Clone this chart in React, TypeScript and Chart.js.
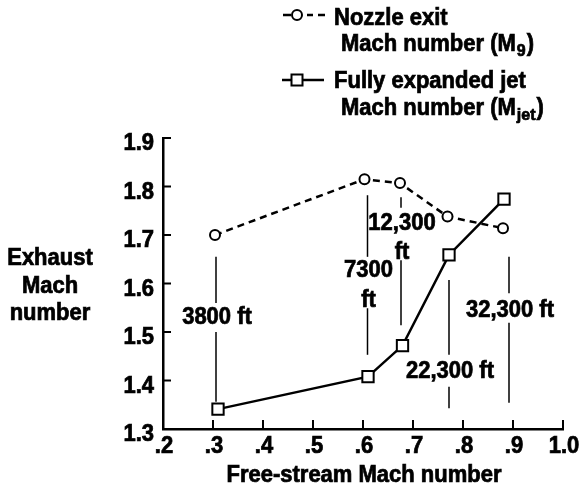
import React, { useEffect, useRef } from "react";
import { Chart, registerables } from "chart.js";
Chart.register(...registerables);

// ---- data ----
const nozzleX = [0.304, 0.603, 0.674, 0.769, 0.88];
const nozzleY = [1.7, 1.815, 1.807, 1.738, 1.714];
const jetX = [0.31, 0.61, 0.679, 0.772, 0.882];
const jetY = [1.341, 1.408, 1.472, 1.659, 1.774];

const xTickValues = [0.2, 0.3, 0.4, 0.5, 0.6, 0.7, 0.8, 0.9, 1.0];
const xTickLabels = [".2", ".3", ".4", ".5", ".6", ".7", ".8", ".9", "1.0"];
const yTickValues = [1.3, 1.4, 1.5, 1.6, 1.7, 1.8, 1.9];
const yTickLabels = ["1.3", "1.4", "1.5", "1.6", "1.7", "1.8", "1.9"];

// altitude annotations (data units)
const altitudeX = [0.306, 0.609, 0.676, 0.772, 0.892];
const altitudeLabels = [["3800 ft"], ["7300", "ft"], ["12,300", "ft"], ["22,300 ft"], ["32,300 ft"]];
const altitudeLabelY = [[1.534], [1.629, 1.568], [1.727, 1.668], [1.421], [1.548]];
const altitudeSegments = [
  [[1.655, 1.56], [1.5, 1.356]],
  [[1.782, 1.655], [1.549, 1.453]],
  [[1.778, 1.756], [1.648, 1.514]],
  [[1.607, 1.453], [1.387, 1.343]],
  [[1.655, 1.58], [1.519, 1.354]],
];

const xTitle = "Free-stream Mach number";
const yTitle = ["Exhaust", "Mach", "number"];
const legendNozzle = ["Nozzle exit", "Mach number (M", "9", ")"];
const legendJet = ["Fully expanded jet", "Mach number (M", "jet", ")"];

const FONT = '"Liberation Sans", Arial, Helvetica, sans-serif';
const STRETCH = 1.06;

function txt(ctx: CanvasRenderingContext2D, s: string, x: number, y: number, align: CanvasTextAlign, size = 22) {
  ctx.save();
  ctx.font = `bold ${size}px ${FONT}`;
  ctx.fillStyle = "#000";
  ctx.strokeStyle = "#000";
  ctx.lineWidth = 0.7;
  ctx.setLineDash([]);
  ctx.textAlign = align;
  ctx.textBaseline = "alphabetic";
  ctx.translate(x, y);
  ctx.scale(1, STRETCH);
  ctx.fillText(s, 0, 0);
  ctx.strokeText(s, 0, 0);
  ctx.restore();
  ctx.save();
  ctx.font = `bold ${size}px ${FONT}`;
  const w = ctx.measureText(s).width;
  ctx.restore();
  return w;
}

const decorPlugin = {
  id: "decor",
  afterDraw(chart: any) {
    const ctx: CanvasRenderingContext2D = chart.ctx;
    const xs = chart.scales.x;
    const ys = chart.scales.y;
    const area = chart.chartArea;
    ctx.save();
    ctx.strokeStyle = "#000";
    ctx.lineWidth = 2;
    // inward ticks
    yTickValues.forEach((v, i) => {
      const py = ys.getPixelForValue(v);
      if (v > 1.3) {
        ctx.beginPath();
        ctx.moveTo(area.left, py);
        ctx.lineTo(area.left + 8, py);
        ctx.stroke();
      }
      txt(ctx, yTickLabels[i], area.left - 9, py + 12, "right");
    });
    xTickValues.forEach((v, i) => {
      const px = xs.getPixelForValue(v);
      if (v > 0.2) {
        ctx.beginPath();
        ctx.moveTo(px, area.bottom);
        ctx.lineTo(px, area.bottom - 9);
        ctx.stroke();
      }
      txt(ctx, xTickLabels[i], px + 1, area.bottom + 24, "center");
    });
    // axis titles
    txt(ctx, xTitle, (area.left + area.right) / 2 + 1, area.bottom + 53, "center");
    const yBase = [265, 293, 320];
    yTitle.forEach((s, i) => txt(ctx, s, 50, yBase[i], "center"));

    // altitude annotations
    ctx.lineWidth = 1.5;
    altitudeX.forEach((ax, i) => {
      const px = xs.getPixelForValue(ax);
      altitudeSegments[i].forEach(([a, b]) => {
        ctx.beginPath();
        ctx.moveTo(px, ys.getPixelForValue(a));
        ctx.lineTo(px, ys.getPixelForValue(b));
        ctx.stroke();
      });
      altitudeLabels[i].forEach((s, j) => {
        txt(ctx, s, px + 1, ys.getPixelForValue(altitudeLabelY[i][j]) + 8, "center");
      });
    });

    // legend
    ctx.lineWidth = 2.5;
    ctx.setLineDash([]);
    const ly1 = 15;
    ctx.beginPath();
    ctx.moveTo(283, ly1);
    ctx.lineTo(291, ly1);
    ctx.moveTo(307, ly1);
    ctx.lineTo(313, ly1);
    ctx.moveTo(318, ly1);
    ctx.lineTo(325, ly1);
    ctx.stroke();
    ctx.lineWidth = 2;
    ctx.beginPath();
    ctx.arc(297, ly1, 5, 0, Math.PI * 2);
    ctx.fillStyle = "#fff";
    ctx.fill();
    ctx.stroke();
    const ly2 = 80;
    ctx.lineWidth = 2.5;
    ctx.beginPath();
    ctx.moveTo(282, ly2);
    ctx.lineTo(292, ly2);
    ctx.moveTo(302, ly2);
    ctx.lineTo(324, ly2);
    ctx.stroke();
    ctx.lineWidth = 2;
    ctx.fillStyle = "#fff";
    ctx.fillRect(291.5, ly2 - 5.5, 11, 11);
    ctx.strokeRect(291.5, ly2 - 5.5, 11, 11);

    txt(ctx, legendNozzle[0], 334, 25, "left");
    let w = txt(ctx, legendNozzle[1], 341, 51, "left");
    let w2 = txt(ctx, legendNozzle[2], 341 + w + 1, 56, "left", 16);
    txt(ctx, legendNozzle[3], 341 + w + w2 + 2, 51, "left");

    txt(ctx, legendJet[0], 334, 88, "left");
    w = txt(ctx, legendJet[1], 341, 115, "left");
    w2 = txt(ctx, legendJet[2], 341 + w + 1, 120, "left", 16);
    txt(ctx, legendJet[3], 341 + w + w2 + 2, 115, "left");
    ctx.restore();
  },
};

export default function App() {
  const ref = useRef<HTMLCanvasElement>(null);
  useEffect(() => {
    if (!ref.current) return;
    const chart = new Chart(ref.current, {
      type: "scatter",
      data: {
        datasets: [
          {
            label: "Nozzle exit Mach number (M9)",
            data: nozzleX.map((x, i) => ({ x, y: nozzleY[i] })),
            showLine: true,
            borderColor: "#000",
            borderWidth: 2.5,
            borderDash: [7, 5],
            pointStyle: "circle",
            pointRadius: 5,
            pointBorderWidth: 2,
            pointBackgroundColor: "#fff",
            pointBorderColor: "#000",
            clip: false,
          },
          {
            label: "Fully expanded jet Mach number (Mjet)",
            data: jetX.map((x, i) => ({ x, y: jetY[i] })),
            showLine: true,
            borderColor: "#000",
            borderWidth: 2.5,
            pointStyle: "rect",
            pointRadius: 8,
            pointBorderWidth: 2,
            pointBackgroundColor: "#fff",
            pointBorderColor: "#000",
            clip: false,
          },
        ],
      },
      options: {
        responsive: false,
        animation: false,
        devicePixelRatio: 1,
        layout: { padding: { left: 163, right: 17, top: 138, bottom: 61 } },
        plugins: { legend: { display: false }, tooltip: { enabled: false } },
        scales: {
          x: {
            type: "linear",
            min: 0.2,
            max: 1.0,
            ticks: { display: false, stepSize: 0.1 },
            grid: { display: false, drawTicks: false },
            border: { display: true, color: "#000", width: 2.5 },
            afterFit: (s: any) => {
              s.height = 0;
            },
          },
          y: {
            type: "linear",
            min: 1.3,
            max: 1.9,
            ticks: { display: false, stepSize: 0.1 },
            grid: { display: false, drawTicks: false },
            border: { display: true, color: "#000", width: 2.5 },
            afterFit: (s: any) => {
              s.width = 0;
            },
          },
        },
      },
      plugins: [decorPlugin],
    } as any);
    return () => chart.destroy();
  }, []);
  return (
    <div style={{ position: "fixed", left: 0, top: 0, width: 580, height: 490, background: "#fff" }}>
      <canvas ref={ref} width={580} height={490} />
    </div>
  );
}
